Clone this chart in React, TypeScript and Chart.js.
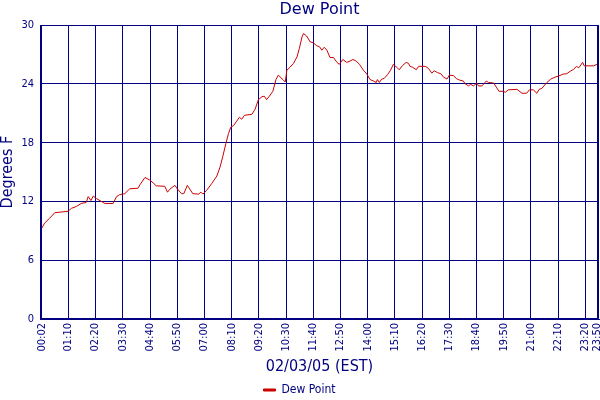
import { useEffect, useRef } from "react"
import { Chart, registerables, type ChartConfiguration, type Plugin } from "chart.js"

Chart.register(...registerables)

// minutes after midnight
const minutes = [
  2, 9, 22, 35, 69, 78, 91, 103, 116, 121, 128, 134, 142, 155, 164, 185, 194, 202, 215, 228,
  249, 254, 267, 279, 288, 296, 318, 325, 331, 344, 350, 361, 367, 376, 390, 405, 411, 416, 426, 439,
  452, 460, 467, 475, 482, 488, 495, 503, 510, 516, 523, 542, 550, 559, 568, 574, 580, 587, 596, 604,
  610, 623, 628, 632, 640, 649, 658, 664, 671, 675, 683, 692, 700, 709, 716, 722, 728, 735, 743, 752,
  761, 767, 776, 786, 795, 802, 810, 819, 829, 838, 846, 855, 862, 865, 870, 876, 882, 891, 898, 906,
  915, 921, 930, 939, 945, 949, 956, 965, 971, 988, 996, 1005, 1011, 1020, 1028, 1035, 1044, 1050, 1061, 1068,
  1076, 1086, 1090, 1099, 1105, 1112, 1121, 1125, 1134, 1145, 1151, 1164, 1172, 1178, 1189, 1194, 1202, 1224, 1237, 1249,
  1256, 1266, 1275, 1281, 1288, 1301, 1311, 1322, 1331, 1342, 1352, 1361, 1370, 1377, 1383, 1393, 1397, 1421, 1430,
]

const dewPoint = [
  9.3, 9.8, 10.3, 10.85, 11.0, 11.3, 11.5, 11.8, 11.9, 12.5, 12.1, 12.55, 12.3, 12.0, 11.8, 11.8, 12.5, 12.7, 12.8, 13.3,
  13.35, 13.7, 14.45, 14.2, 13.9, 13.6, 13.55, 12.95, 13.25, 13.65, 13.3, 12.8, 12.8, 13.65, 12.8, 12.75, 12.95, 12.75, 13.15, 13.85,
  14.6, 15.5, 16.55, 17.9, 18.95, 19.6, 19.75, 20.2, 20.6, 20.4, 20.8, 20.9, 21.4, 22.4, 22.7, 22.75, 22.4, 22.75, 23.25, 24.45,
  24.9, 24.4, 24.2, 25.4, 25.7, 26.1, 26.75, 27.6, 28.8, 29.15, 28.9, 28.3, 28.2, 27.9, 27.8, 27.45, 27.75, 27.45, 26.7, 26.7,
  26.2, 26.0, 26.5, 26.2, 26.35, 26.5, 26.35, 26.0, 25.4, 25.0, 24.45, 24.3, 24.15, 24.45, 24.15, 24.5, 24.55, 24.95, 25.35, 26.0,
  25.7, 25.45, 25.9, 26.2, 26.1, 25.8, 25.7, 25.45, 25.8, 25.8, 25.6, 25.1, 25.35, 25.15, 25.05, 24.7, 24.5, 24.9, 24.85, 24.55,
  24.4, 24.3, 24.05, 23.8, 23.95, 23.8, 24.1, 23.8, 23.8, 24.3, 24.15, 24.1, 23.6, 23.25, 23.25, 23.15, 23.4, 23.45, 23.05, 23.05,
  23.4, 23.4, 23.05, 23.45, 23.55, 24.15, 24.5, 24.7, 24.8, 25.0, 25.05, 25.3, 25.5, 25.8, 25.65, 26.2, 25.85, 25.85, 26.0,
]

const xTickValues = [
  2, 70, 140, 210, 280, 350, 420, 490, 560, 630, 700, 770, 840, 910, 980, 1050, 1120, 1190, 1260, 1330, 1400, 1430,
]
const xTickLabels = [
  "00:02", "01:10", "02:20", "03:30", "04:40", "05:50", "07:00", "08:10", "09:20", "10:30", "11:40",
  "12:50", "14:00", "15:10", "16:20", "17:30", "18:40", "19:50", "21:00", "22:10", "23:20", "23:50",
]

const NAVY = "#000080"
const RED = "#cc0000"
const FONT = "'DejaVu Sans Condensed', 'DejaVu Sans', sans-serif"

// closes the plot box on the top and right
const frame: Plugin<"line"> = {
  id: "frame",
  beforeDatasetsDraw(chart) {
    const { ctx, chartArea } = chart
    ctx.save()
    ctx.strokeStyle = NAVY
    ctx.lineWidth = 1
    ctx.strokeRect(
      Math.round(chartArea.left) + 0.5,
      Math.round(chartArea.top) + 0.5,
      Math.round(chartArea.right - chartArea.left) - 1,
      Math.round(chartArea.bottom - chartArea.top) - 1
    )
    ctx.restore()
  },
}

export default function App() {
  const canvasRef = useRef<HTMLCanvasElement>(null)
  const chartRef = useRef<Chart | null>(null)

  useEffect(() => {
    if (!canvasRef.current) return
    if (chartRef.current) chartRef.current.destroy()

    const config: ChartConfiguration<"line"> = {
      type: "line",
      data: {
        datasets: [
          {
            label: "Dew Point",
            data: minutes.map((m, i) => ({ x: m, y: dewPoint[i] })),
            borderColor: RED,
            backgroundColor: RED,
            borderWidth: 1,
            pointRadius: 0,
            tension: 0,
            fill: false,
          },
        ],
      },
      options: {
        responsive: false,
        animation: false,
        layout: { padding: { left: 0, right: 1, top: 0, bottom: -6 } },
        plugins: {
          title: {
            display: true,
            text: "Dew Point",
            color: NAVY,
            fullSize: false,
            font: { family: "'DejaVu Sans', sans-serif", size: 16, weight: "normal", lineHeight: 1.2 },
            padding: { top: 0, bottom: 6 },
          },
          legend: {
            position: "bottom",
            labels: {
              color: NAVY,
              boxWidth: 12,
              boxHeight: 2,
              padding: 4,
              font: { family: FONT, size: 12 },
            },
          },
          tooltip: { enabled: false },
        },
        scales: {
          x: {
            type: "linear",
            min: -3,
            max: 1435,
            afterBuildTicks: (scale) => {
              scale.ticks = xTickValues.map((v) => ({ value: v }))
            },
            afterFit: (scale) => {
              scale.height = 61
              scale.paddingLeft = 0
              scale.paddingRight = 0
            },
            ticks: {
              autoSkip: false,
              minRotation: 90,
              maxRotation: 90,
              padding: 4,
              color: NAVY,
              font: { family: FONT, size: 11 },
              callback: (value) => xTickLabels[xTickValues.indexOf(Number(value))] ?? "",
            },
            grid: { color: NAVY, lineWidth: 1, drawTicks: false },
            border: { color: NAVY },
            title: {
              display: true,
              text: "02/03/05 (EST)",
              color: NAVY,
              font: { family: FONT, size: 16, lineHeight: 1.2 },
              padding: { top: 0, bottom: 4 },
            },
          },
          y: {
            min: 0,
            max: 30,
            afterFit: (scale) => {
              scale.width = 40
            },
            ticks: {
              stepSize: 6,
              padding: 6,
              color: NAVY,
              font: { family: FONT, size: 11 },
            },
            grid: { color: NAVY, lineWidth: 1, drawTicks: false },
            border: { color: NAVY },
            title: {
              display: true,
              text: "Degrees F",
              color: NAVY,
              font: { family: FONT, size: 16, lineHeight: 1 },
              padding: { top: 0, bottom: 0 },
            },
          },
        },
      },
      plugins: [frame],
    }

    chartRef.current = new Chart(canvasRef.current, config)

    return () => {
      if (chartRef.current) {
        chartRef.current.destroy()
        chartRef.current = null
      }
    }
  }, [])

  return (
    <div style={{ position: "fixed", left: 0, top: 0, width: 600, height: 400, background: "#ffffff" }}>
      <canvas ref={canvasRef} width={600} height={400} />
    </div>
  )
}
